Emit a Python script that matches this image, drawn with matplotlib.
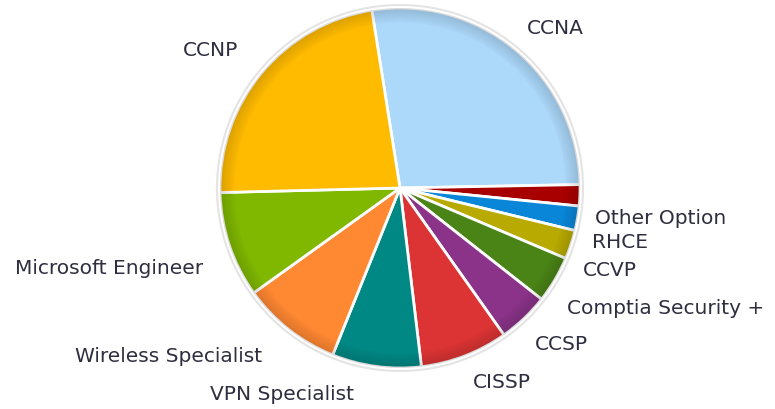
import matplotlib
matplotlib.use('Agg')
import matplotlib.pyplot as plt
from matplotlib.patches import Circle, Wedge

# share of respondents per certification, clockwise from the top
labels = ['CCNA', 'Other Option', 'RHCE', 'CCVP', 'Comptia Security +', 'CCSP',
          'CISSP', 'VPN Specialist', 'Wireless Specialist', 'Microsoft Engineer', 'CCNP']
shares = [27.2, 1.9, 2.2, 2.6, 4.2, 4.6, 7.9, 8.0, 9.0, 9.5, 22.9]
colors = ['#acd8fa', '#a80000', '#0a86d8', '#b8aa00', '#4a8416', '#8a3388',
          '#dc3434', '#008884', '#ff8833', '#80b800', '#ffbb00']

# where each label sits (pixel coords, left edge / middle)
label_xy = [(527, 29), (595, 218), (592, 242), (583, 270), (567, 308), (535, 345),
            (473, 383), (210, 395), (75, 357), (15, 268), (183, 50)]

W, H = 775, 409
cx, cy, R = 400, H - 188, 180

fig = plt.figure(figsize=(W / 100, H / 100), dpi=100)
ax = fig.add_axes([0, 0, 1, 1])

# faint outer ring
ax.add_patch(Circle((cx, cy), R + 3, facecolor='none', edgecolor='#e4e4e4', lw=1.5))

wedges, _ = ax.pie(shares, colors=colors, startangle=99, counterclock=False,
                   center=(cx, cy), radius=R, frame=True,
                   wedgeprops=dict(edgecolor='white', linewidth=2))

# darker rim to mimic the glossy shading
for k in range(9):
    ax.add_patch(Wedge((cx, cy), R - k * 1.6, 0, 360, width=1.6,
                       facecolor='black', alpha=0.14 - k * 0.015, lw=0))

ax.set_xlim(0, W)
ax.set_ylim(0, H)
ax.set_aspect('equal')
ax.axis('off')

for name, (x, y) in zip(labels, label_xy):
    ax.text(x, H - y, name, ha='left', va='center', fontsize=14.5,
            color='#2e2e40', family='DejaVu Sans')

fig.savefig('out.png', dpi=100)
